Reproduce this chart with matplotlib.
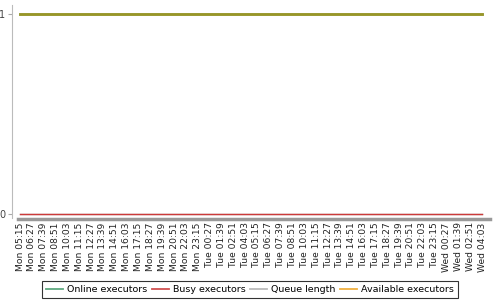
import numpy as np
import matplotlib.pyplot as plt
from matplotlib.lines import Line2D

days = ['Mon'] * 16 + ['Tue'] * 20 + ['Wed'] * 4
times = ['05:15', '06:27', '07:39', '08:51', '10:03', '11:15', '12:27', '13:39',
         '14:51', '16:03', '17:15', '18:27', '19:39', '20:51', '22:03', '23:15',
         '00:27', '01:39', '02:51', '04:03', '05:15', '06:27', '07:39', '08:51',
         '10:03', '11:15', '12:27', '13:39', '14:51', '16:03', '17:15', '18:27',
         '19:39', '20:51', '22:03', '23:15',
         '00:27', '01:39', '02:51', '04:03']
labels = [d + ' ' + t for d, t in zip(days, times)]

online = [1] * 40
busy = [0] * 40
queue = [0] * 40
available = [1] * 40

c_online = '#4a8a50'
c_busy = '#cc3a3a'
c_queue = '#aaaaaa'
c_avail = '#e8a200'

fig = plt.figure(figsize=(5, 3), dpi=100)
ax = fig.add_axes([0.036, 0.273, 0.944, 0.71])

x = np.arange(len(labels))
ax.plot(x, queue, color=c_queue, lw=1)
ax.plot(x, busy, color=c_busy, lw=1)
ax.plot(x, online, color=c_online, lw=2)
ax.plot(x, available, color=c_avail, lw=2, alpha=0.5)

ax.set_xlim(-0.17, 39.67)
ax.set_ylim(-0.02, 1.045)
ax.set_yticks([0, 1])
ax.set_xticks(x)
ax.set_xticklabels(labels)
ax.tick_params(axis='x', length=0, pad=2, labelrotation=90, labelsize=6.6,
               labelcolor='#222222')
ax.tick_params(axis='y', length=3, color='#aaaaaa', labelsize=7,
               labelcolor='#444444', pad=2)

for s in ['top', 'right']:
    ax.spines[s].set_visible(False)
ax.spines['left'].set_position(('outward', 4))
ax.spines['left'].set_color('#bbbbbb')
ax.spines['bottom'].set_color('#999999')
ax.spines['bottom'].set_linewidth(2.5)
ax.spines['bottom'].set_position(('outward', 1))

handles = [Line2D([], [], color='#5fa980', lw=1.3),
           Line2D([], [], color='#d05050', lw=1.3),
           Line2D([], [], color='#bbbbbb', lw=1.3),
           Line2D([], [], color='#f0b040', lw=1.3)]
names = ['Online executors', 'Busy executors', 'Queue length', 'Available executors']
leg = fig.legend(handles, names, loc='lower center', bbox_to_anchor=(0.5, 0.006),
                 ncol=4, fontsize=6.8, frameon=True, fancybox=False,
                 handlelength=1.8, handletextpad=0.5, columnspacing=0.4,
                 borderpad=0.45, borderaxespad=0)
leg.get_frame().set_edgecolor('black')
leg.get_frame().set_linewidth(0.8)

fig.savefig('out.png', dpi=100)
